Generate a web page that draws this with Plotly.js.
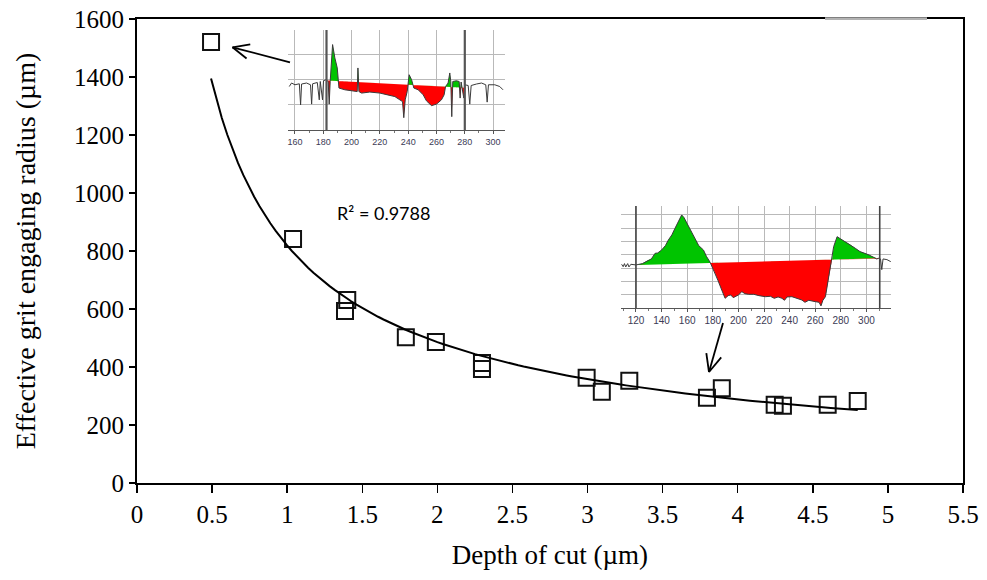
<!DOCTYPE html>
<html>
<head>
<meta charset="utf-8">
<script src="https://cdn.plot.ly/plotly-3.0.1.min.js"></script>
<style>html,body{margin:0;padding:0;background:#fff;}#chart{width:987px;height:580px;}</style>
</head>
<body>
<div id="chart"></div>
<script>
// ---- main scatter data (depth of cut µm, effective grit engaging radius µm)
const depth  = [0.493, 1.039, 1.385, 1.40, 1.79, 1.99, 2.297, 2.297, 2.994, 3.095, 3.278, 3.795, 3.894, 4.246, 4.301, 4.599, 4.799];
const radius = [1521, 841, 593, 631, 503, 486, 414, 393, 363, 315, 353, 294, 327, 270, 266, 270, 283];
const r2Text = "R² = 0.9788";

// ---- inset 1 surface profile (position µm, height in grid units)
const ins1X = [156,157.6,160,163.1,164,164.7,168.2,171,171.8,172.5,175.8,177.2,177.9,179.5,180.2,181.9,183.5,184.2,184.9,185.9,186.6,188.2,189.9,190.6,191.1,195.3,200,204,204.5,205.2,207.1,212.9,220,224.7,230.6,234.1,236,236.9,237.9,239.3,240.7,242.4,244,247.1,250.6,252.9,256.5,260,263.5,265.4,266.4,268.2,269.4,270.1,270.8,271.5,274.1,276,276.7,277.4,279.3,280.2,282.4,283.5,284.5,288.2,291.8,294.8,295.8,296.7,301.2,304.7,307];
const ins1Y = [1.73,1.87,1.8,1.84,1.0,1.83,1.87,1.8,1.03,1.84,1.89,1.2,1.93,1.2,1.96,2.0,1.93,1.03,1.93,2.73,3.4,2.87,2.47,2.0,1.67,1.6,1.56,1.53,2.47,1.53,1.47,1.51,1.47,1.4,1.33,1.2,1.13,0.49,1.2,1.53,2.2,2.0,1.67,1.6,1.4,1.16,0.97,1.03,1.2,1.4,1.73,1.87,2.27,1.93,0.53,1.93,1.96,1.93,1.27,1.91,1.27,1.8,1.77,1.03,1.77,1.83,1.87,1.8,1.11,1.8,1.8,1.73,1.6];
const ins1FillRange = [183, 280];
const ins1RefLevel = [1.97, 1.68];
const ins1Cursors = [182.3, 280];
const ins1Ticks = [160,180,200,220,240,260,280,300];

// ---- inset 2 surface profile
const ins2X = [108.8,110,111,112,113.5,114.5,116,120,125,129.6,132,134.9,137,140,143,145.3,148,150.5,153,155.7,157.5,159.6,163,166.2,169,172.7,175,177.9,181.8,184,187,189.6,192,194,196,197.4,200,202.7,205,207.9,212,216,221,225,228,231,234,236,238,241.8,245,249.6,252,255,260,263,264.5,266,268,270.6,273.1,274.4,277.1,280,283.6,287,291.3,295,299.1,302,305.6,308,309.6,311,312,313,316,319];
const ins2Y = [3.3,3.12,3.35,3.1,3.35,3.1,3.3,3.25,3.35,3.62,3.7,4.12,4.15,4.37,4.7,5.12,5.5,6.0,6.5,7.0,6.8,6.4,5.8,5.12,4.7,4.37,3.9,3.45,2.62,2.1,1.37,0.75,0.95,1.0,0.8,0.87,1.0,1.25,1.1,1.05,1.05,0.95,0.87,0.9,0.75,0.85,0.75,0.6,0.85,0.87,0.75,0.62,0.45,0.6,0.5,0.45,0.18,0.6,0.87,2.37,3.62,4.62,5.37,5.2,5.0,4.8,4.5,4.25,4.12,4.0,3.82,3.7,3.75,3.7,2.9,3.7,3.65,3.5];
const ins2FillRange = [120, 310.4];
const ins2RefLevel = [3.25, 3.75];
const ins2Cursors = [120, 310.4];
const ins2Ticks = [120,140,160,180,200,220,240,260,280,300,320];

// ---- power trendline fitted (least squares in log space) from the data
function powerFit(xs, ys) {
  const n = xs.length;
  const lx = xs.map(Math.log), ly = ys.map(Math.log);
  const mx = lx.reduce((a,b)=>a+b,0)/n, my = ly.reduce((a,b)=>a+b,0)/n;
  let sxy=0, sxx=0;
  for (let i=0;i<n;i++){ sxy+=(lx[i]-mx)*(ly[i]-my); sxx+=(lx[i]-mx)*(lx[i]-mx); }
  const b = sxy/sxx, a = Math.exp(my - b*mx);
  return {a, b};
}
const fit = powerFit(depth, radius);
const xmin = Math.min(...depth), xmax = Math.max(...depth);
const trendX = [], trendY = [];
for (let i=0;i<=120;i++){ const x = xmin + (xmax-xmin)*i/120; trendX.push(x); trendY.push(fit.a*Math.pow(x, fit.b)); }

// ---- split profile into above / below the reference line
function splitFill(xs, ys, range, lev) {
  const [x0,x1] = range;
  const ref = x => lev[0] + (lev[1]-lev[0])*(x-x0)/(x1-x0);
  const interp = (i, xv) => ys[i] + (ys[i+1]-ys[i])*(xv-xs[i])/(xs[i+1]-xs[i]);
  let px=[], py=[];
  for (let i=0;i<xs.length;i++){
    if (xs[i]>=x0 && xs[i]<=x1){ px.push(xs[i]); py.push(ys[i]); }
    if (i<xs.length-1){
      if (xs[i]<x0 && xs[i+1]>x0){ px.push(x0); py.push(interp(i,x0)); }
      if (xs[i]<x1 && xs[i+1]>x1){ px.push(x1); py.push(interp(i,x1)); }
    }
  }
  const fx=[], fy=[];
  for (let i=0;i<px.length;i++){
    fx.push(px[i]); fy.push(py[i]);
    if (i<px.length-1){
      const d0 = py[i]-ref(px[i]), d1 = py[i+1]-ref(px[i+1]);
      if (d0*d1<0){
        const t = d0/(d0-d1);
        const xc = px[i]+t*(px[i+1]-px[i]);
        fx.push(xc); fy.push(ref(xc));
      }
    }
  }
  const rf = fx.map(ref);
  return {x: fx, ref: rf, up: fy.map((v,i)=>Math.max(v,rf[i])), lo: fy.map((v,i)=>Math.min(v,rf[i]))};
}

function insetTraces(xs, ys, range, lev, xa, ya) {
  const s = splitFill(xs, ys, range, lev);
  const base = {xaxis: xa, yaxis: ya, mode: 'lines', hoverinfo: 'skip', showlegend: false};
  return [
    Object.assign({}, base, {x: s.x, y: s.ref, line: {width: 0, color: 'rgba(0,0,0,0)'}}),
    Object.assign({}, base, {x: s.x, y: s.up, fill: 'tonexty', fillcolor: '#00c400', line: {width: 0, color: 'rgba(0,0,0,0)'}}),
    Object.assign({}, base, {x: s.x, y: s.ref, line: {width: 0, color: 'rgba(0,0,0,0)'}}),
    Object.assign({}, base, {x: s.x, y: s.lo, fill: 'tonexty', fillcolor: '#ff0000', line: {width: 0, color: 'rgba(0,0,0,0)'}}),
    Object.assign({}, base, {x: xs, y: ys, line: {width: 1, color: '#3a3a3a'}})
  ];
}

const traces = [
  {x: depth, y: radius, mode: 'markers', type: 'scatter', showlegend: false,
   marker: {symbol: 'square-open', size: 16, color: '#111', line: {width: 2, color: '#111'}}},
  {x: trendX, y: trendY, mode: 'lines', type: 'scatter', showlegend: false,
   line: {color: '#000', width: 2}}
].concat(insetTraces(ins1X, ins1Y, ins1FillRange, ins1RefLevel, 'x2', 'y2'))
 .concat(insetTraces(ins2X, ins2Y, ins2FillRange, ins2RefLevel, 'x3', 'y3'));

// ---- geometry helpers (pixel -> paper)
const L=137, R=963, T=19, B=483;
const P = (px, py) => [(px-L)/(R-L), (B-py)/(B-T)];
function arrowShapes(tail, tip, arm, ang) {
  const dx = tail[0]-tip[0], dy = tail[1]-tip[1];
  const len = Math.hypot(dx,dy), ux = dx/len, uy = dy/len;
  const rot = (a) => [tip[0] + arm*(ux*Math.cos(a) - uy*Math.sin(a)), tip[1] + arm*(ux*Math.sin(a) + uy*Math.cos(a))];
  const a1 = rot(ang), a2 = rot(-ang);
  const seg = (p, q) => { const A=P(p[0],p[1]), Bq=P(q[0],q[1]);
    return {type:'line', xref:'paper', yref:'paper', x0:A[0], y0:A[1], x1:Bq[0], y1:Bq[1], line:{color:'#000', width:1.8}, layer:'above'}; };
  return [seg(tail, tip), seg(tip, a1), seg(tip, a2)];
}

const shapes = [];
ins1Cursors.forEach(c => shapes.push({type:'line', xref:'x2', yref:'y2 domain', x0:c, x1:c, y0:0, y1:1, line:{color:'#555', width:2.2}, layer:'above'}));
ins2Cursors.forEach(c => shapes.push({type:'line', xref:'x3', yref:'y3 domain', x0:c, x1:c, y0:0, y1:1, line:{color:'#444', width:1.6}, layer:'above'}));
arrowShapes([290,62.3],[232.5,47.3],18,0.42).forEach(s=>shapes.push(s));
arrowShapes([723,323],[709,372],19,0.42).forEach(s=>shapes.push(s));
// thin segment of the top frame
const g0 = P(825,18.5), g1 = P(927,18.5);
shapes.push({type:'line', xref:'paper', yref:'paper', x0:g0[0], x1:g1[0], y0:1, y1:1, line:{color:'#fff', width:3}, layer:'above'});
shapes.push({type:'line', xref:'paper', yref:'paper', x0:g0[0], x1:g1[0], y0:1, y1:1, line:{color:'#666', width:1}, layer:'above'});

const serif = 'Liberation Serif, Times New Roman, serif';
const insetX = (dom, ticks, range, fs) => ({domain: dom, range: range, anchor: null, tickvals: ticks, showgrid: true, gridcolor: '#b9b9b9', gridwidth: 1,
  zeroline: false, showline: true, linecolor: '#555', linewidth: 1, ticks: 'outside', ticklen: 3, tickcolor: '#555',
  minor: {dtick: 10, ticks: 'outside', ticklen: 2, tickcolor: '#777', showgrid: false},
  tickfont: {family: 'Liberation Sans, Arial, sans-serif', size: fs, color: '#3b3b55'}, fixedrange: true});
const insetY = (dom, range, anchor) => ({domain: dom, range: range, anchor: anchor, dtick: 1, showgrid: true, gridcolor: '#b9b9b9', gridwidth: 1,
  zeroline: false, showline: false, showticklabels: false, ticks: '', fixedrange: true});

const p1a = P(288,130), p1b = P(505,30);
const p2a = P(621,308.3), p2b = P(891,206);
const x2 = insetX([p1a[0], p1b[0]], ins1Ticks, [155.1, 308.4], 9); x2.anchor = 'y2';
const x3 = insetX([p2a[0], p2b[0]], ins2Ticks, [108.3, 319.2], 10); x3.anchor = 'y3';

const layout = {
  width: 987, height: 580,
  margin: {l: L, r: 987-R, t: T, b: 580-B, pad: 0},
  paper_bgcolor: '#fff', plot_bgcolor: 'rgba(0,0,0,0)',
  font: {family: serif, color: '#000'},
  xaxis: {domain: [0,1], range: [0, 5.5], dtick: 0.5, tick0: 0, showgrid: false, zeroline: false,
    showline: true, linecolor: '#000', linewidth: 2, mirror: true,
    ticks: 'outside', ticklen: 8, tickwidth: 1.5, tickcolor: '#000',
    tickfont: {family: serif, size: 25, color: '#000'},
    title: {text: 'Depth of cut (µm)', font: {family: serif, size: 27, color: '#000'}, standoff: 18}, automargin: false},
  yaxis: {domain: [0,1], range: [0, 1600], dtick: 200, showgrid: false, zeroline: false,
    showline: true, linecolor: '#000', linewidth: 2, mirror: true,
    ticks: 'outside', ticklen: 6, tickwidth: 1.5, tickcolor: '#000',
    tickfont: {family: serif, size: 25, color: '#000'},
    title: {text: 'Effective grit engaging radius (µm)', font: {family: serif, size: 28, color: '#000'}, standoff: 30}, automargin: false},
  xaxis2: x2, yaxis2: insetY([p1a[1], p1b[1]], [0, 3.98], 'x2'),
  xaxis3: x3, yaxis3: insetY([p2a[1], p2b[1]], [0, 7.67], 'x3'),
  shapes: shapes,
  annotations: [{x: 1.64, y: 931, xref: 'x', yref: 'y', text: r2Text, showarrow: false,
    font: {family: 'Lato, Liberation Sans, Arial, sans-serif', size: 18, color: '#000'}}]
};

Plotly.newPlot('chart', traces, layout, {staticPlot: true, displayModeBar: false});
</script>
</body>
</html>
